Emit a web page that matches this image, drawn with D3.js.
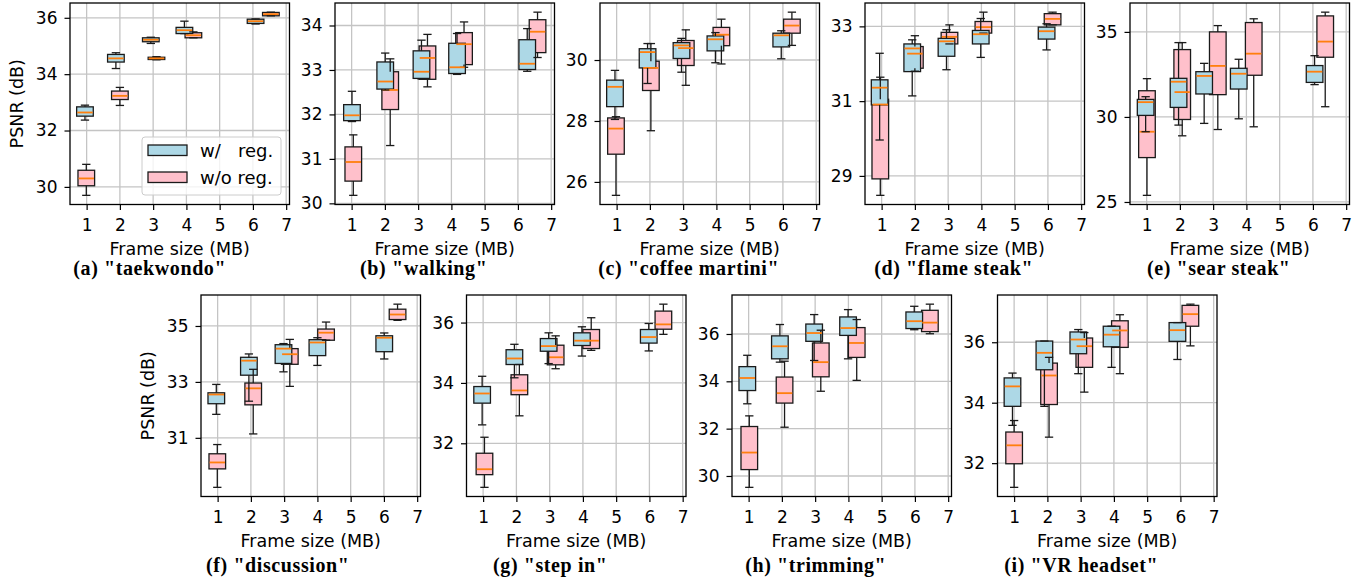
<!DOCTYPE html>
<html>
<head>
<meta charset="utf-8">
<script src="https://cdn.jsdelivr.net/npm/d3@7"></script>
<style>
    body { margin: 0; background: #fff; }
    svg { display: block; }
    text { font-family: "DejaVu Sans", sans-serif; fill: #000; }
    .caption { font-family: "Liberation Serif", serif; font-weight: bold; }
</style>
</head>
<body>
<svg id="chart" width="1372" height="584"></svg>
<script>
// one entry per panel: (a) .. (i)
const panelNames = ['(a) "taekwondo"', '(b) "walking"', '(c) "coffee martini"', '(d) "flame steak"',
    '(e) "sear steak"', '(f) "discussion"', '(g) "step in"', '(h) "trimming"', '(i) "VR headset"'];

const xTicks = [1, 2, 3, 4, 5, 6, 7];

const yTicks = [
    [30, 32, 34, 36], [30, 31, 32, 33, 34], [26, 28, 30], [29, 31, 33], [25, 30, 35],
    [31, 33, 35], [32, 34, 36], [30, 32, 34, 36], [32, 34, 36]
];

// frame size (MB) where each box sits
const regX = [
    [0.95, 1.88, 2.93, 3.94, 6.08], [1.01, 2.01, 3.1, 4.17, 6.28], [0.95, 1.93, 2.95, 3.97, 5.95],
    [0.94, 1.92, 2.95, 3.98, 5.96], [0.97, 1.96, 2.73, 3.77, 6.05], [0.96, 1.94, 2.98, 4.0, 6.01],
    [0.97, 1.94, 2.97, 3.97, 5.98], [0.96, 1.94, 2.97, 3.99, 5.98], [0.95, 1.91, 2.93, 3.93, 5.91]
];
const noregX = [
    [0.99, 2.0, 3.1, 4.21, 6.54], [1.05, 2.16, 3.28, 4.38, 6.59], [0.98, 2.03, 3.08, 4.15, 6.27],
    [0.96, 2.0, 3.04, 4.06, 6.14], [1.01, 2.07, 3.14, 4.22, 6.37], [0.99, 2.07, 3.17, 4.26, 6.41],
    [1.04, 2.09, 3.18, 4.25, 6.42], [1.02, 2.08, 3.17, 4.25, 6.45], [1.0, 2.05, 3.11, 4.18, 6.3]
];

// [whisker low, q1, median, q3, whisker high] PSNR (dB)
const regStats = [
    [[32.37, 32.51, 32.64, 32.84, 32.9], [34.2, 34.43, 34.56, 34.7, 34.76], [35.09, 35.15, 35.22, 35.29, 35.31], [35.44, 35.44, 35.56, 35.66, 35.88], [35.78, 35.8, 35.88, 35.95, 35.96]],
    [[31.84, 31.86, 31.98, 32.22, 32.52], [32.55, 32.57, 32.74, 33.18, 33.38], [32.8, 32.81, 32.96, 33.43, 33.67], [32.9, 32.92, 33.06, 33.6, 33.82], [32.97, 33.01, 33.14, 33.68, 33.93]],
    [[28.05, 28.47, 29.12, 29.34, 29.66], [29.23, 29.74, 30.26, 30.37, 30.54], [29.6, 30.05, 30.48, 30.57, 30.71], [29.91, 30.3, 30.68, 30.79, 30.9], [30.04, 30.43, 30.81, 30.88, 30.96]],
    [[29.96, 30.9, 31.36, 31.57, 32.28], [31.14, 31.79, 32.41, 32.53, 32.64], [31.84, 32.2, 32.6, 32.68, 32.91], [32.17, 32.53, 32.79, 32.89, 33.21], [32.37, 32.66, 32.87, 32.98, 33.07]],
    [[29.13, 30.09, 30.87, 31.03, 31.19], [29.52, 30.56, 32.07, 32.27, 34.37], [29.62, 31.35, 32.41, 32.66, 33.15], [29.89, 31.64, 32.54, 32.86, 33.39], [31.9, 32.03, 32.66, 33.02, 33.6]],
    [[31.84, 32.22, 32.55, 32.61, 32.91], [32.31, 33.24, 33.76, 33.88, 34.0], [33.36, 33.66, 34.19, 34.33, 34.37], [33.59, 33.94, 34.41, 34.51, 34.58], [33.82, 34.08, 34.58, 34.65, 34.75]],
    [[32.61, 33.33, 33.65, 33.88, 34.22], [34.17, 34.61, 34.81, 35.1, 35.28], [34.64, 35.05, 35.22, 35.47, 35.66], [34.89, 35.24, 35.4, 35.66, 35.86], [35.06, 35.32, 35.52, 35.77, 35.97]],
    [[33.05, 33.61, 34.14, 34.62, 35.1], [34.81, 34.95, 35.48, 35.92, 36.4], [34.88, 35.69, 36.04, 36.42, 36.82], [34.95, 35.94, 36.25, 36.72, 37.03], [36.18, 36.23, 36.54, 36.93, 37.17]],
    [[33.25, 33.88, 34.54, 34.82, 34.98], [33.88, 35.09, 35.65, 36.04, 36.04], [34.96, 35.62, 36.09, 36.34, 36.42], [35.17, 35.85, 36.25, 36.53, 36.53], [35.43, 36.03, 36.4, 36.65, 36.65]]
];
const noregStats = [
    [[29.7, 30.04, 30.3, 30.59, 30.8], [32.89, 33.1, 33.23, 33.4, 33.53], [34.51, 34.52, 34.56, 34.6, 34.62], [35.29, 35.29, 35.38, 35.47, 35.5], [36.07, 36.07, 36.13, 36.19, 36.2]],
    [[30.18, 30.5, 30.93, 31.27, 31.54], [31.3, 32.11, 32.55, 32.96, 33.25], [32.62, 32.79, 33.27, 33.54, 33.8], [33.06, 33.12, 33.58, 33.84, 34.08], [33.28, 33.39, 33.86, 34.13, 34.3]],
    [[25.56, 26.91, 27.75, 28.1, 28.14], [27.68, 29.0, 29.74, 29.96, 30.54], [29.17, 29.82, 30.39, 30.64, 30.99], [29.87, 30.47, 30.83, 31.07, 31.34], [30.48, 30.88, 31.13, 31.34, 31.57]],
    [[28.48, 28.92, 30.91, 31.05, 31.64], [31.8, 31.88, 32.27, 32.46, 32.75], [32.53, 32.53, 32.72, 32.84, 33.04], [32.82, 32.82, 32.98, 33.13, 33.38], [33.04, 33.04, 33.2, 33.34, 33.38]],
    [[25.39, 27.61, 29.13, 31.54, 32.25], [28.89, 29.85, 31.46, 33.96, 34.37], [29.26, 31.31, 33.0, 35.0, 35.37], [29.42, 32.45, 33.72, 35.55, 35.77], [30.6, 33.51, 34.43, 35.94, 36.16]],
    [[29.23, 29.89, 30.12, 30.43, 30.76], [31.14, 32.18, 32.77, 32.96, 33.45], [32.84, 33.63, 33.99, 34.19, 34.52], [34.49, 34.49, 34.76, 34.89, 35.14], [35.2, 35.23, 35.41, 35.6, 35.78]],
    [[30.54, 30.96, 31.14, 31.67, 32.2], [32.91, 33.61, 33.75, 34.27, 34.61], [34.47, 34.6, 34.85, 35.25, 35.56], [35.08, 35.14, 35.4, 35.77, 36.16], [35.61, 35.78, 35.94, 36.38, 36.61]],
    [[29.52, 30.27, 30.99, 32.09, 32.54], [32.06, 33.08, 33.5, 34.18, 34.85], [33.58, 34.19, 34.81, 35.62, 36.16], [34.04, 35.01, 35.62, 36.27, 36.61], [36.01, 36.1, 36.48, 37.0, 37.26]],
    [[31.2, 31.98, 32.59, 33.03, 33.41], [32.86, 33.94, 34.9, 35.31, 35.5], [34.35, 35.17, 35.87, 36.14, 36.32], [34.96, 35.83, 36.39, 36.71, 36.91], [35.88, 36.53, 36.93, 37.22, 37.26]]
];

const legendLabels = ["w/   reg.", "w/o reg."];
const colors = { reg: "#add8e6", noreg: "#ffc0cb", median: "#ff7f0e" };

// layout (pixels)
const plotW = 219.5, plotH = 201.5;
const boxWidth = 0.5;   // in MB units, like matplotlib's default
const tickFont = 17, labelFont = 17.5;

const svg = d3.select("#chart");

function panelOrigin(i) {
    if (i < 5) return { left: 70 + 265 * i, top: 3, capDx: i === 0 ? -30 : -21, capDy: 70.5 };
    return { left: 201 + 265.5 * (i - 5), top: 295, capDx: i === 5 ? -33 : -26, capDy: 75 };
}

function drawPanel(i) {
    const o = panelOrigin(i);
    const g = svg.append("g").attr("transform", "translate(" + o.left + "," + o.top + ")");

    const allVals = regStats[i].flat().concat(noregStats[i].flat());
    const lo = d3.min(allVals), hi = d3.max(allVals), pad = (hi - lo) * 0.05;

    const x = d3.scaleLinear().domain([0.5, 7.1]).range([0, plotW]);
    const y = d3.scaleLinear().domain([lo - pad, hi + pad]).range([plotH, 0]);

    // grid under everything
    g.append("g")
        .selectAll("line.gx").data(xTicks).enter().append("line")
        .attr("x1", d => x(d)).attr("x2", d => x(d))
        .attr("y1", 0).attr("y2", plotH)
        .attr("stroke", "#c4c4c4").attr("stroke-width", 1.3);
    g.append("g")
        .selectAll("line.gy").data(yTicks[i]).enter().append("line")
        .attr("x1", 0).attr("x2", plotW)
        .attr("y1", d => y(d)).attr("y2", d => y(d))
        .attr("stroke", "#c4c4c4").attr("stroke-width", 1.3);

    const series = [
        { pos: noregX[i], stats: noregStats[i], fill: colors.noreg },
        { pos: regX[i], stats: regStats[i], fill: colors.reg }
    ];

    // boxes (patches) first, then all the lines on top, as matplotlib does
    series.forEach(s => {
        g.append("g").selectAll("rect").data(s.stats).enter().append("rect")
            .attr("x", (d, k) => x(s.pos[k] - boxWidth / 2))
            .attr("width", (d, k) => x(s.pos[k] + boxWidth / 2) - x(s.pos[k] - boxWidth / 2))
            .attr("y", d => y(d[3]))
            .attr("height", d => y(d[1]) - y(d[3]))
            .attr("fill", s.fill)
            .attr("stroke", "#1a1a1a").attr("stroke-width", 1.3);
    });

    series.forEach(s => {
        const lg = g.append("g").attr("stroke", "#1a1a1a").attr("stroke-width", 1.3);
        s.stats.forEach((d, k) => {
            const cx = x(s.pos[k]);
            const capHalf = (x(s.pos[k] + boxWidth / 4) - x(s.pos[k] - boxWidth / 4)) / 2;
            // whiskers
            lg.append("line").attr("x1", cx).attr("x2", cx).attr("y1", y(d[1])).attr("y2", y(d[0]));
            lg.append("line").attr("x1", cx).attr("x2", cx).attr("y1", y(d[3])).attr("y2", y(d[4]));
            // caps
            lg.append("line").attr("x1", cx - capHalf).attr("x2", cx + capHalf).attr("y1", y(d[0])).attr("y2", y(d[0]));
            lg.append("line").attr("x1", cx - capHalf).attr("x2", cx + capHalf).attr("y1", y(d[4])).attr("y2", y(d[4]));
        });
        g.append("g").selectAll("line").data(s.stats).enter().append("line")
            .attr("x1", (d, k) => x(s.pos[k] - boxWidth / 2) + 0.6)
            .attr("x2", (d, k) => x(s.pos[k] + boxWidth / 2) - 0.6)
            .attr("y1", d => y(d[2])).attr("y2", d => y(d[2]))
            .attr("stroke", colors.median).attr("stroke-width", 1.8);
    });

    // axes
    const xAxis = g.append("g").attr("transform", "translate(0," + plotH + ")")
        .call(d3.axisBottom(x).tickValues(xTicks).tickFormat(d3.format("d")).tickSize(5.5).tickPadding(8.5));
    const yAxis = g.append("g")
        .call(d3.axisLeft(y).tickValues(yTicks[i]).tickFormat(d3.format("d")).tickSize(5.5).tickPadding(7));
    [xAxis, yAxis].forEach(ax => {
        ax.select(".domain").remove();
        ax.selectAll("line").attr("stroke", "#000").attr("stroke-width", 1.2);
        ax.selectAll("text").style("font-family", '"DejaVu Sans", sans-serif').style("font-size", tickFont + "px").attr("fill", "#000");
    });

    g.append("rect")
        .attr("width", plotW).attr("height", plotH)
        .attr("fill", "none").attr("stroke", "#000").attr("stroke-width", 1.3);

    g.append("text")
        .attr("x", plotW / 2).attr("y", plotH + 50.5)
        .attr("text-anchor", "middle")
        .style("font-size", labelFont + "px")
        .text("Frame size (MB)");

    if (i === 0 || i === 5) {
        g.append("text")
            .attr("transform", "rotate(-90)")
            .attr("x", -plotH / 2).attr("y", -47)
            .attr("text-anchor", "middle")
            .style("font-size", labelFont + "px")
            .text("PSNR (dB)");
    }

    g.append("text")
        .attr("class", "caption")
        .attr("x", plotW / 2 + o.capDx).attr("y", plotH + o.capDy)
        .attr("text-anchor", "middle")
        .style("font-size", "20px")
        .style("letter-spacing", "0.6px")
        .text(panelNames[i]);

    if (i === 0) drawLegend(g);
}

function drawLegend(g) {
    const lg = g.append("g").attr("transform", "translate(72,134)");
    lg.append("rect")
        .attr("width", 139).attr("height", 58).attr("rx", 3)
        .attr("fill", "#fff").attr("fill-opacity", 0.8)
        .attr("stroke", "#cccccc").attr("stroke-width", 1);
    [colors.reg, colors.noreg].forEach((c, k) => {
        lg.append("rect")
            .attr("x", 6).attr("y", 8 + k * 27)
            .attr("width", 39).attr("height", 10.5)
            .attr("fill", c).attr("stroke", "#1a1a1a").attr("stroke-width", 1.3);
        lg.append("text")
            .attr("x", 58).attr("y", 19.5 + k * 27)
            .style("font-size", "18px")
            .style("white-space", "pre")
            .attr("xml:space", "preserve")
            .text(legendLabels[k]);
    });
}

for (let i = 0; i < panelNames.length; i++) drawPanel(i);
</script>
</body>
</html>
